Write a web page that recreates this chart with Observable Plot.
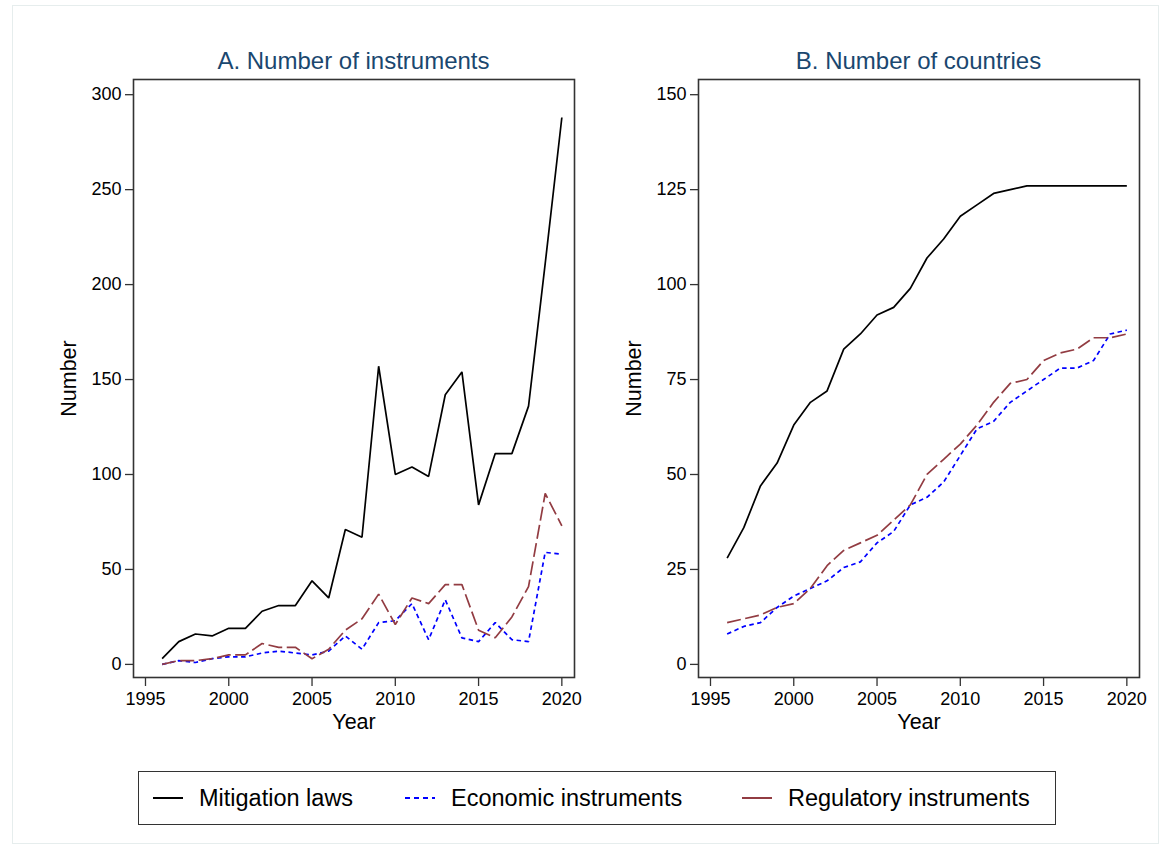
<!DOCTYPE html>
<html>
<head>
<meta charset="utf-8">
<script src="https://cdn.jsdelivr.net/npm/d3@7"></script>
<script src="https://cdn.jsdelivr.net/npm/@observablehq/plot@0.6"></script>
<style>
  body { margin: 0; background: white; font-family: "Liberation Sans", Arial, Helvetica, sans-serif; }
  #root { position: relative; width: 1163px; height: 849px; background: white; overflow: hidden; }
  #outer { position: absolute; left: 12px; top: 5px; width: 1147px; height: 839px; border: 1px solid #e6eded; box-sizing: border-box; }
  .panel { position: absolute; top: 0; }
  .ptitle { position: absolute; top: 47px; font-size: 24px; color: #1a476f; text-align: center; white-space: nowrap; }
  g[aria-label="x-axis label"] text, g[aria-label="y-axis label"] text { font-size: 21.5px; fill: #000; }
  #legend { position: absolute; left: 138px; top: 771px; width: 918px; height: 54px; border: 1.3px solid #333; box-sizing: border-box; font-size: 23.5px; color: #000; }
  .litem { position: absolute; top: 0; height: 52px; display: flex; align-items: center; white-space: nowrap; }
  .litem svg { margin-right: 15px; }
</style>
</head>
<body>
<div id="root">
  <div id="outer"></div>
  <div class="ptitle" id="titleA" style="left:133px;width:441px;">A. Number of instruments</div>
  <div class="ptitle" id="titleB" style="left:698px;width:441px;">B. Number of countries</div>
  <div class="panel" id="panelA" style="left:0px;"></div>
  <div class="panel" id="panelB" style="left:590px;"></div>
  <div id="legend"></div>
</div>
<script>
// ---- Data ----
const years = [1996,1997,1998,1999,2000,2001,2002,2003,2004,2005,2006,2007,2008,2009,2010,2011,2012,2013,2014,2015,2016,2017,2018,2019,2020];

// Panel A: Number of instruments
const mitigationA = [3,12,16,15,19,19,28,31,31,44,35,71,67,157,100,104,99,142,154,84,111,111,136,211,288];
const economicA   = [0,2,1,3,4,4,6,7,6,5,7,15,8,22,23,32,13,34,14,12,22,13,12,59,58];
const regulatoryA = [0,2,2,3,5,5,11,9,9,3,8,18,24,37,21,35,32,42,42,18,14,25,41,90,73];

// Panel B: Number of countries
const mitigationB = [28,36,47,53,63,69,72,83,87,92,94,99,107,112,118,121,124,125,126,126,126,126,126,126,126];
const economicB   = [8,10,11,15,18,20,22,25.5,27,32,35,42,44,48,55,62,64,69,72,75,78,78,80,87,88];
const regulatoryB = [11,12,13,15,16,20,26,30,32,34,38,42,50,54,58,63,69,74,75,80,82,83,86,86,87];

const seriesNames = ["Mitigation laws", "Economic instruments", "Regulatory instruments"];
const yTicksA = [0,50,100,150,200,250,300];
const yTicksB = [0,25,50,75,100,125,150];
const xTicks = [1995,2000,2005,2010,2015,2020];

const styles = {
  "Mitigation laws":        {stroke: "#000000", dash: null, legendDash: null},
  "Economic instruments":   {stroke: "#0000ff", dash: "4.5,3.5", legendDash: "5,4"},
  "Regulatory instruments": {stroke: "#923c42", dash: "14,4.5", legendDash: null}
};

function toRows(a, b, c) {
  return years.map((yr, i) => [
    {year: yr, value: a[i], series: seriesNames[0]},
    {year: yr, value: b[i], series: seriesNames[1]},
    {year: yr, value: c[i], series: seriesNames[2]}
  ]).flat();
}

function panel(rows, yDomain, yTicks, width, mLeft, mRight) {
  const lines = seriesNames.map(s => Plot.line(rows.filter(d => d.series === s), {
    x: "year", y: "value",
    stroke: styles[s].stroke,
    strokeWidth: 1.7,
    strokeDasharray: styles[s].dash,
    strokeLinejoin: "miter",
    strokeLinecap: "butt"
  }));
  return Plot.plot({
    width, height: 740,
    marginLeft: mLeft, marginRight: mRight, marginTop: 79, marginBottom: 63,
    style: {background: "transparent", fontFamily: '"Liberation Sans", Arial, Helvetica, sans-serif', fontSize: "18px", color: "#000", overflow: "visible"},
    x: {domain: [1994.28, 2020.76]},
    y: {domain: yDomain},
    marks: [
      Plot.axisY(yTicks, {tickSize: 8, tickPadding: 4, tickFormat: d => String(d), label: "Number", labelAnchor: "center", labelArrow: "none", labelOffset: 73, stroke: "#333", strokeWidth: 1.3, fontSize: 18}),
      Plot.axisX(xTicks, {tickSize: 9, tickPadding: 6, tickFormat: d => String(d), label: "Year", labelAnchor: "center", labelArrow: "none", labelOffset: 51, stroke: "#333", strokeWidth: 1.3, fontSize: 18}),
      ...lines,
      Plot.frame({stroke: "#333", strokeWidth: 1.6})
    ]
  });
}

const rowsA = toRows(mitigationA, economicA, regulatoryA);
const rowsB = toRows(mitigationB, economicB, regulatoryB);

document.getElementById("panelA").append(panel(rowsA, [-6.9, 308], yTicksA, 585, 133, 11));
document.getElementById("panelB").append(panel(rowsB, [-3.45, 154], yTicksB, 570, 108, 21));

// Legend
const legendItems = [
  {name: seriesNames[0], left: 13},
  {name: seriesNames[1], left: 265},
  {name: seriesNames[2], left: 602}
];
const legend = document.getElementById("legend");
for (const it of legendItems) {
  const st = styles[it.name];
  const div = document.createElement("div");
  div.className = "litem";
  div.style.left = it.left + "px";
  const dashAttr = st.legendDash ? `stroke-dasharray="${st.legendDash}"` : "";
  div.innerHTML = `<svg width="32" height="10"><line x1="1" y1="5" x2="31" y2="5" stroke="${st.stroke}" stroke-width="2" ${dashAttr}/></svg><span>${it.name}</span>`;
  legend.append(div);
}
</script>
</body>
</html>
